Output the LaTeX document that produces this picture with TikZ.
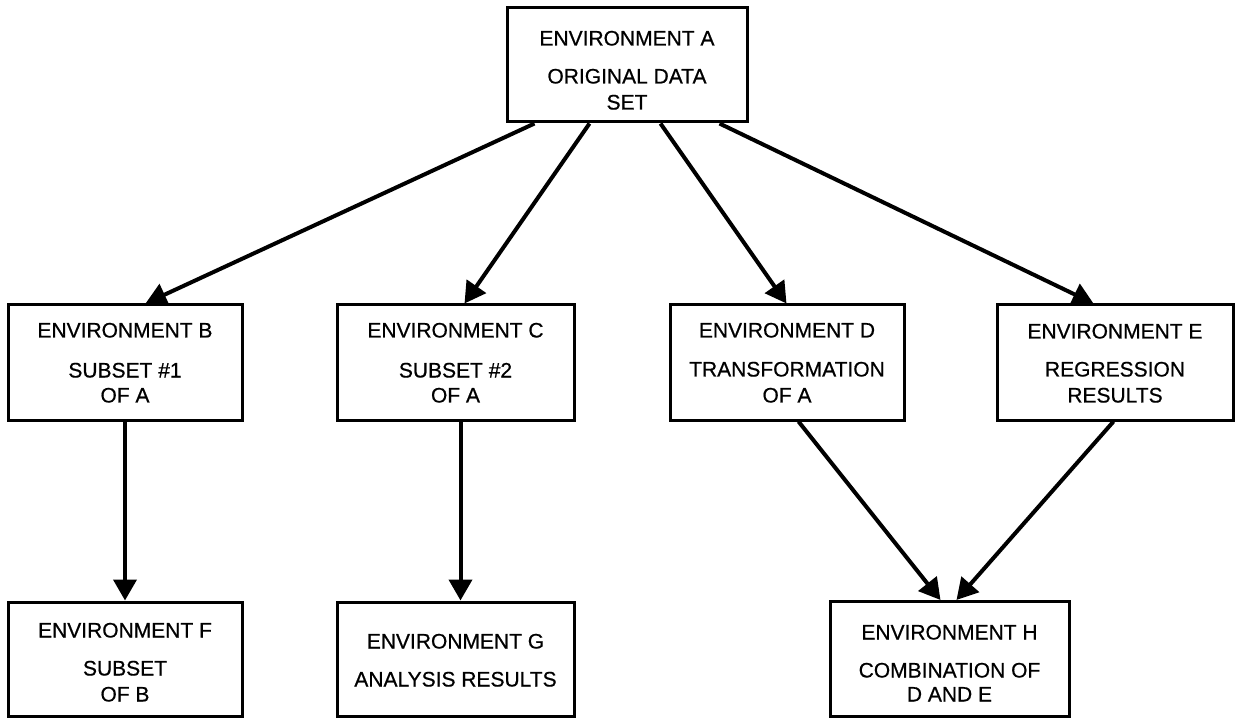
\documentclass[tikz,border=0pt]{standalone}
\usepackage{fontspec}
\setmainfont{Liberation Sans}
\newfontfamily\heavysans{Liberation Sans}[FakeBold=0.6]
\usetikzlibrary{arrows.meta}
\begin{document}
\begin{tikzpicture}[x=1pt,y=-1pt,
  envbox/.style={draw=black, line width=3pt, fill=white, inner sep=0pt, rectangle},
  lbl/.style={inner sep=0pt, anchor=center, text height=15pt, text depth=0pt,
    font=\heavysans\fontsize{21}{21}\selectfont},
  arr/.style={line width=4pt, -{Triangle[length=21pt,width=23pt]}}]
\useasboundingbox (0,0) rectangle (1235,719);

% boxes
\node[envbox, minimum width=240pt, minimum height=114pt] (A) at (627,65) {};
\node[envbox, minimum width=234pt, minimum height=115pt] (B) at (125,362.5) {};
\node[envbox, minimum width=237pt, minimum height=115pt] (C) at (455.5,362.5) {};
\node[envbox, minimum width=234pt, minimum height=115pt] (D) at (787,362.5) {};
\node[envbox, minimum width=236pt, minimum height=115pt] (E) at (1115,362.5) {};
\node[envbox, minimum width=234pt, minimum height=114pt] (F) at (125,659) {};
\node[envbox, minimum width=237pt, minimum height=114pt] (G) at (455.5,659) {};
\node[envbox, minimum width=239pt, minimum height=115pt] (H) at (949.5,659) {};

% box texts
\node[lbl] (a1) at (627,38) {ENVIRONMENT A};
\node[lbl] (a2) at (627,76) {ORIGINAL DATA};
\node[lbl] (a3) at (627,102) {SET};

\node[lbl] (b1) at (125,330) {ENVIRONMENT B};
\node[lbl] (b2) at (125,370) {SUBSET \#1};
\node[lbl] (b3) at (125,395) {OF A};

\node[lbl] (c1) at (455.5,330) {ENVIRONMENT C};
\node[lbl] (c2) at (455.5,370) {SUBSET \#2};
\node[lbl] (c3) at (455.5,395) {OF A};

\node[lbl] (d1) at (787,330) {ENVIRONMENT D};
\node[lbl] (d2) at (787,369) {TRANSFORMATION};
\node[lbl] (d3) at (787,395) {OF A};

\node[lbl] (e1) at (1115,331) {ENVIRONMENT E};
\node[lbl] (e2) at (1115,369) {REGRESSION};
\node[lbl] (e3) at (1115,395) {RESULTS};

\node[lbl] (f1) at (125,630) {ENVIRONMENT F};
\node[lbl] (f2) at (125,668) {SUBSET};
\node[lbl] (f3) at (125,694) {OF B};

\node[lbl] (g1) at (455.5,641) {ENVIRONMENT G};
\node[lbl] (g2) at (455.5,679) {ANALYSIS RESULTS};

\node[lbl] (h1) at (949.5,632) {ENVIRONMENT H};
\node[lbl] (h2) at (949.5,670) {COMBINATION OF};
\node[lbl] (h3) at (949.5,694) {D AND E};

% connectors
\draw[arr] ([xshift=29pt]A.south west) -- ([xshift=139pt]B.north west);
\draw[arr] ([xshift=84pt]A.south west) -- ([xshift=129pt]C.north west);
\draw[arr] ([xshift=155pt]A.south west) -- ([xshift=118pt]D.north west);
\draw[arr] ([xshift=214pt]A.south west) -- ([xshift=98pt]E.north west);
\draw[arr] (B.south) -- (F.north);
\draw[arr] ([xshift=5pt]C.south) -- ([xshift=5pt]G.north);
\draw[arr] ([xshift=130pt]D.south west) -- ([xshift=112pt]H.north west);
\draw[arr] ([xshift=118pt]E.south west) -- ([xshift=128pt]H.north west);
\end{tikzpicture}
\end{document}
